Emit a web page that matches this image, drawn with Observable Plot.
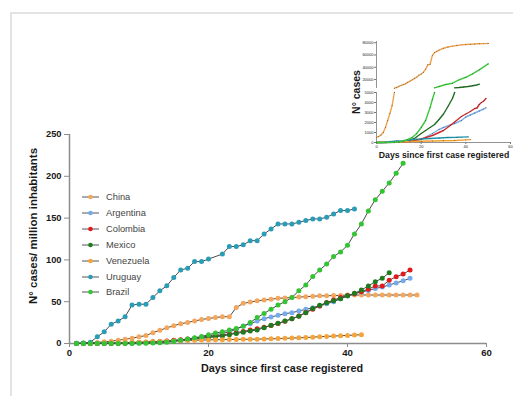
<!DOCTYPE html>
<html><head><meta charset="utf-8">
<script src="https://cdn.jsdelivr.net/npm/d3@7"></script>
<script src="https://cdn.jsdelivr.net/npm/@observablehq/plot@0.6"></script>
<style>
body{margin:0;background:#fff;}
#wrap{position:relative;width:513px;height:396px;overflow:hidden;font-family:"Liberation Sans",Arial,sans-serif;background:#fff;}
#wrap svg{position:absolute;left:0;top:0;}
.frame{position:absolute;left:10px;top:12px;right:-4px;bottom:-4px;border-left:2px solid #e3e3e3;border-top:2px solid #e3e3e3;}
.lab{position:absolute;font-weight:bold;color:#1a1a1a;white-space:nowrap;transform:translate(-50%,-50%);}
.rot{transform:translate(-50%,-50%) rotate(-90deg);}
.leg{position:absolute;left:82px;display:flex;align-items:center;font-size:9.3px;color:#444;height:12px;transform:translateY(-50%);}
.leg svg{position:static !important;margin-right:7px;}
</style></head><body><div id="wrap"><div class="frame"></div></div>
<script>
// ---------- main chart data (cases per million, day 1 onward) ----------
const countries = ["China","Argentina","Colombia","Mexico","Venezuela","Uruguay","Brazil"];
const colors = ["#f4a65c","#74abef","#e3191c","#1d7d1d","#f5a43a","#2b9cb6","#33c433"];
const china = [0.3,0.5,0.9,1.3,2,2.8,4,5,6.4,8, 9.5,13,15.8,18.7,21.3,23.6,25.2,27,28.6,30, 31,32,32,43,48,49.5,51,52,53,54, 54.5,55,55.5,56,56.5,57,57,57.5,57.5,58, 58,58,58,58,58,58,58,58,58,58];
const argentina = [0,0,0,0.1,0.2,0.3,0.4,0.5,0.7,1, 1.3,1.7,2.2,2.8,3.5,4.3,5.2,6.3,7.5,9, 10.5,12,14,17,21,23.7,26.9,29.7,31.7,33.7, 35.7,36.9,38.9,40.9,42.9,45,47.5,50,53.5,56.8, 59.6,61.6,63.5,65.8,67.5,70,72.5,75,78];
const colombia = [0,0,0,0.1,0.1,0.2,0.3,0.5,0.8,1.1, 1.5,2,2.5,3,3.8,4.5,5.3,6,7,8, 9,10,11.5,13,14.5,16,17.5,19.5,21.5,24, 26.5,29.5,33,37,41,45,49,52,55,57.5, 59.5,62,65,68.8,68.8,75.6,79.9,83,87.9];
const mexico = [0,0,0,0,0.1,0.1,0.2,0.3,0.5,0.8, 1,1.4,1.9,2.4,3,3.7,4.5,5.3,6.2,7, 8,9,10.5,12,13.5,15,16.1,18.9,21.7,24.1, 26.9,29.7,32.5,36.9,42,45.7,48.8,51,53.5,57, 60,64,68.8,74,78,84.7];
const venezuela = [0,0,0.1,0.3,0.5,0.7,0.9,1.1,1.3,1.5, 1.7,2,2.3,2.6,3,3.3,3.6,3.9,4.1,4.3, 4.5,4.6,4.8,4.9,5,5.1,5.2,5.5,5.6,5.9, 6.2,6.5,6.8,7.1,7.6,8.1,8.5,8.9,9.3,9.7, 10.1,10.5];
const uruguay = [0.3,0.6,1.5,8,14,23,27,32,46,47, 47,55,63,69,79,88,90,98,98,101, null,107,116,116,118,123,123,131,137,143, 143,143,145,147,149,149,151,155,159,159, 161];
const brazil = [0,0,0,0,0,0,0.1,0.1,0.1,0.2, 0.3,0.5,0.8,1.4,2.5,4,5.5,6.8,8.5,10.5, 12.5,14,16,18,20.5,25,31,36,41,46, 50,55,63,70,80,88,95,104,109.5,117.5, 131,143,158.5,172,182,192,203.5,215.5];
const seriesValues = [china,argentina,colombia,mexico,venezuela,uruguay,brazil];
const xTicks = [0,20,40,60];
const yTicks = [0,50,100,150,200,250];

// ---------- inset data (cumulative cases) ----------
const insetLower = {
  China:     {d:[0,1,2,3,4,5,6,7,8], v:[530,600,750,1000,1500,2200,2900,3700,5000]},
  Argentina: {d:[0,10,15,20,25,28,30,33,35,38,40,42,44,46,48,49], v:[0,30,100,300,900,1300,1500,1750,1900,2200,2550,2750,2950,3150,3350,3470]},
  Colombia:  {d:[0,10,15,20,25,28,30,33,35,38,40,42,44,45,46,47,48,49], v:[0,20,100,350,700,1000,1200,1700,2050,2600,2850,3100,3400,3450,3800,4000,4150,4400]},
  Mexico:    {d:[0,6,10,14,17,20,22,24,26,28,30,32,34,35], v:[0,10,40,150,400,900,1200,1500,1800,2300,2850,3600,4400,5000]},
  Venezuela: {d:[0,5,10,15,20,25,30,35,40,42], v:[0,30,40,100,130,145,170,200,260,290]},
  Uruguay:   {d:[0,3,4,6,9,12,15,18,20,24,28,32,36,38,41], v:[0,4,30,80,160,190,270,340,350,400,450,500,520,540,560]},
  Brazil:    {d:[0,4,8,10,12,14,16,18,20,22,24,25,26], v:[0,5,20,50,150,300,500,900,1500,2200,3500,4300,5000]}
};
const insetUpper = {
  China:  {d:[8,9,10,11,12,13,14,15,16,17,18,19,20,21,22,23,24,25,26,27,28,30,32,34,36,38,40,42,44,46,48,50],
           v:[6000,7000,9000,10500,11800,13000,15500,17500,19500,22000,24000,27000,29000,32000,37000,44000,45000,59000,64000,66000,68000,71000,73000,74500,75500,76500,77000,77500,78000,78300,78500,78800]},
  Mexico: {d:[35,37,39,41,43,45,46], v:[6500,7000,7800,8600,9800,11200,12500]},
  Brazil: {d:[26,28,31,34,37,40,43,46,50], v:[6500,8600,11900,14000,19500,23700,29200,35700,45500]}
};
const insetColors = {China:"#eea24e",Argentina:"#7aaee8",Colombia:"#d42a2a",Mexico:"#1e6e1e",Venezuela:"#f0a030",Uruguay:"#1f93a8",Brazil:"#3cc83c"};
const insetLowTicks = [0,1000,2000,3000,4000,5000];
const insetUpTicks = [20000,40000,60000,80000];

const FONT = '"Liberation Sans", Arial, sans-serif';
const wrap = document.getElementById("wrap");

// ---------- main plot ----------
const mainMarks = [
  Plot.ruleX([0], {stroke:"#8c8c8c", strokeWidth:1.5}),
  Plot.ruleY([0], {stroke:"#8c8c8c", strokeWidth:1.5}),
  Plot.axisX({ticks:xTicks, tickSize:4, tickPadding:2, fontSize:9.6, fontWeight:"bold", stroke:"#8c8c8c", fill:"#1a1a1a", label:null}),
  Plot.axisY({ticks:yTicks, tickSize:5, tickPadding:3, fontSize:9.3, fontWeight:"bold", stroke:"#8c8c8c", fill:"#1a1a1a", label:null})
];
countries.forEach((c, i) => {
  const rows = seriesValues[i].map((v, k) => ({day:k+1, value:v})).filter(r => r.value != null);
  mainMarks.push(Plot.line(rows, {x:"day", y:"value", stroke:"#4a4a4a", strokeWidth:1}));
  mainMarks.push(Plot.dot(rows, {x:"day", y:"value", fill:colors[i], r:2.5}));
});
wrap.appendChild(Plot.plot({
  width:513, height:396, marginLeft:69, marginRight:27, marginTop:134, marginBottom:53,
  x:{domain:[0,60]}, y:{domain:[0,250]},
  style:{background:"transparent", fontFamily:FONT, overflow:"visible"},
  marks: mainMarks
}));

// ---------- inset: lower segment ----------
function insetMarks(set) {
  const m = [];
  Object.keys(set).forEach(c => {
    const rows = set[c].d.map((d, k) => ({day:d, value:set[c].v[k]}));
    m.push(Plot.line(rows, {x:"day", y:"value", stroke:insetColors[c], strokeWidth:1.4}));
    m.push(Plot.dot(rows, {x:"day", y:"value", fill:"#333", r:0.45}));
  });
  return m;
}
const fmt = d => String(d);
wrap.appendChild(Plot.plot({
  width:513, height:396, marginLeft:376, marginRight:3, marginTop:92, marginBottom:254,
  x:{domain:[0,60]}, y:{domain:[0,5000]},
  style:{background:"transparent", fontFamily:FONT, overflow:"visible"},
  marks:[
    Plot.ruleX([0], {stroke:"#777", strokeWidth:0.8}),
    Plot.ruleY([0], {stroke:"#777", strokeWidth:0.8}),
    Plot.axisX({ticks:xTicks, tickSize:2, tickPadding:1, fontSize:4, stroke:"#777", fill:"#222", label:null}),
    Plot.axisY({ticks:insetLowTicks, tickSize:2, tickPadding:1, fontSize:4, tickFormat:fmt, stroke:"#777", fill:"#222", label:null}),
    ...insetMarks(insetLower)
  ]
}));
// ---------- inset: upper segment ----------
wrap.appendChild(Plot.plot({
  width:513, height:396, marginLeft:376, marginRight:3, marginTop:41, marginBottom:308,
  x:{domain:[0,60], axis:null}, y:{domain:[5400,82000]},
  style:{background:"transparent", fontFamily:FONT, overflow:"visible"},
  marks:[
    Plot.ruleX([0], {stroke:"#777", strokeWidth:0.8}),
    Plot.axisY({ticks:insetUpTicks, tickSize:2, tickPadding:1, fontSize:4, tickFormat:fmt, stroke:"#777", fill:"#222", label:null}),
    ...insetMarks(insetUpper)
  ]
}));

// ---------- titles ----------
function label(text, x, y, size, rot) {
  const d = document.createElement("div");
  d.className = "lab" + (rot ? " rot" : "");
  d.style.left = x + "px"; d.style.top = y + "px"; d.style.fontSize = size + "px";
  d.textContent = text;
  wrap.appendChild(d);
}
label("Days since first case registered", 282, 368, 10.8, false);
label("N° cases/ million inhabitants", 33, 226, 11.5, true);
label("Days since first case registered", 444, 155, 8.7, false);
label("N° cases", 356, 92, 10.5, true);

// ---------- legend ----------
countries.forEach((c, i) => {
  const row = document.createElement("div");
  row.className = "leg";
  row.style.top = (197 + i * 15.9) + "px";
  const ns = "http://www.w3.org/2000/svg";
  const s = document.createElementNS(ns, "svg");
  s.setAttribute("width", 17); s.setAttribute("height", 8);
  const ln = document.createElementNS(ns, "line");
  ln.setAttribute("x1", 0); ln.setAttribute("x2", 17); ln.setAttribute("y1", 4); ln.setAttribute("y2", 4);
  ln.setAttribute("stroke", "#555"); ln.setAttribute("stroke-width", 1);
  const ci = document.createElementNS(ns, "circle");
  ci.setAttribute("cx", 8.5); ci.setAttribute("cy", 4); ci.setAttribute("r", 2.3); ci.setAttribute("fill", colors[i]);
  s.appendChild(ln); s.appendChild(ci);
  const t = document.createElement("span"); t.textContent = c;
  row.appendChild(s); row.appendChild(t);
  wrap.appendChild(row);
});
</script></body></html>
